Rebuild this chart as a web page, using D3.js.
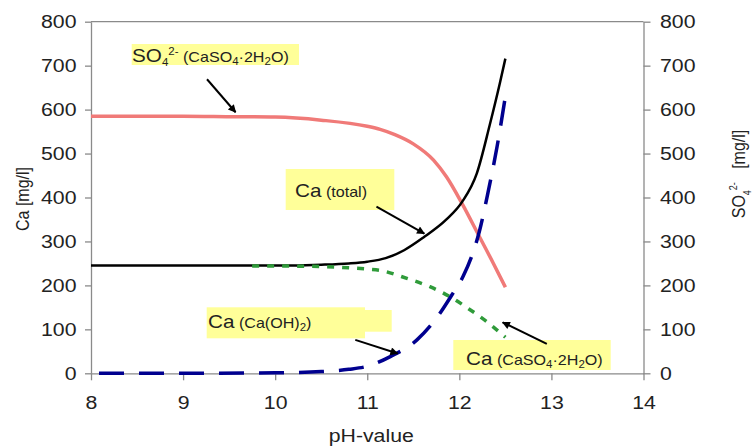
<!DOCTYPE html>
<html><head><meta charset="utf-8">
<script src="https://cdn.jsdelivr.net/npm/d3@7"></script>
<style>
html,body{margin:0;padding:0;background:#fff;}
svg{display:block;font-family:"Liberation Sans",Arial,sans-serif;}
</style></head>
<body>
<svg id="chart" width="752" height="446"></svg>
<script>
// ---- data (pH, mg/l) ----
const xTicks = [8, 9, 10, 11, 12, 13, 14];
const yTicks = [0, 100, 200, 300, 400, 500, 600, 700, 800];

const so4PH  = [8, 9, 9.5, 10, 10.5, 11, 11.14, 11.3, 11.5, 11.72, 11.86, 12.03, 12.22, 12.37, 12.5];
const so4Val = [585, 585, 584, 583, 576, 562, 555, 543, 522, 485, 447, 386, 310, 250, 196];

const caTotPH  = [8, 9, 10, 10.5, 10.8, 11, 11.2, 11.4, 11.61, 11.86, 12.03, 12.19, 12.33, 12.44, 12.5];
const caTotVal = [245, 245, 245, 247, 250, 254, 262, 280, 309, 350, 390, 455, 565, 660, 716];

const caOHPH  = [8, 9, 10, 10.5, 10.8, 11, 11.25, 11.54, 11.75, 11.93, 12.04, 12.22, 12.31, 12.41, 12.5];
const caOHVal = [0, 0, 1, 4, 9, 16, 38, 76, 125, 182, 220, 325, 410, 516, 630];

const caGypPH  = [9.75, 10, 10.5, 10.8, 11, 11.14, 11.43, 11.68, 11.9, 12.1, 12.3, 12.5];
const caGypVal = [244, 244, 243, 240, 237, 234, 216, 197, 174, 147, 117, 82];

// ---- layout ----
const svg = d3.select("#chart");
const X0 = 91, X1 = 643.5, Y0 = 373.3, Y1 = 21.7;
const SX = 1.15;            // horizontal text stretch seen in the reference
const FS = 18.5;
const x = d3.scaleLinear().domain([8, 14]).range([X0, X1]);
const y = d3.scaleLinear().domain([0, 800]).range([Y0, Y1]);
const axisCol = "#8a8a8a", textCol = "#222";

// frame: top line
svg.append("line").attr("x1", X0).attr("x2", X1).attr("y1", Y1).attr("y2", Y1)
  .attr("stroke", axisCol).attr("stroke-width", 1.3);

function styleAxis(g){
  g.select(".domain").attr("stroke", axisCol).attr("stroke-width", 1.3);
  g.selectAll(".tick line").attr("stroke", axisCol).attr("stroke-width", 1.3);
  g.selectAll(".tick text").attr("fill", textCol).attr("font-size", FS)
    .attr("font-family", "Liberation Sans, Arial, sans-serif")
    .attr("transform", `scale(${SX},1)`);
}
const gx = svg.append("g").attr("transform", `translate(0,${Y0})`)
  .call(d3.axisBottom(x).tickValues(xTicks).tickSize(7).tickSizeOuter(0).tickPadding(16).tickFormat(d3.format("d")));
styleAxis(gx);
const gl = svg.append("g").attr("transform", `translate(${X0},0)`)
  .call(d3.axisLeft(y).tickValues(yTicks).tickSize(6).tickSizeOuter(0).tickFormat(d3.format("d")));
styleAxis(gl);
gl.selectAll(".tick text").attr("x", -14.5 / SX);
const gr = svg.append("g").attr("transform", `translate(${X1},0)`)
  .call(d3.axisRight(y).tickValues(yTicks).tickSize(7).tickSizeOuter(0).tickFormat(d3.format("d")));
styleAxis(gr);
gr.selectAll(".tick text").attr("x", 16.5 / SX);

// axis titles
svg.append("text").attr("transform", `translate(${(X0 + X1) / 2 + 4},442) scale(${SX},1)`)
  .attr("text-anchor", "middle").attr("font-size", FS).attr("fill", textCol).text("pH-value");
svg.append("text").attr("transform", `translate(29,199) rotate(-90) scale(1,${SX})`).attr("text-anchor", "middle")
  .attr("font-size", 16).attr("fill", textCol).text("Ca [mg/l]");
const rt = svg.append("text").attr("transform", `translate(745,174) rotate(-90) scale(1,${SX})`).attr("text-anchor", "middle")
  .attr("font-size", 16).attr("fill", textCol);
rt.append("tspan").text("SO");
rt.append("tspan").attr("font-size", 9).attr("dy", 5).text("4");
rt.append("tspan").attr("font-size", 9).attr("dy", -12).text("2-");
rt.append("tspan").attr("dy", 7).attr("xml:space", "preserve").text("\u00a0\u00a0\u00a0[mg/l]");

// ---- lines ----
const line = d3.line().x(d => x(d[0])).y(d => y(d[1])).curve(d3.curveMonotoneX);
const zip = (a, b) => a.map((v, i) => [v, b[i]]);

svg.append("path").datum(zip(so4PH, so4Val)).attr("d", line)
  .attr("fill", "none").attr("stroke", "#f07a78").attr("stroke-width", 3.5);
svg.append("path").datum(zip(caTotPH, caTotVal)).attr("d", line)
  .attr("fill", "none").attr("stroke", "#000").attr("stroke-width", 2.5);
svg.append("path").datum(zip(caGypPH, caGypVal)).attr("d", line)
  .attr("fill", "none").attr("stroke", "#2f9b3a").attr("stroke-width", 3.5)
  .attr("stroke-dasharray", "7,8");
svg.append("path").datum(zip(caOHPH, caOHVal)).attr("d", line)
  .attr("fill", "none").attr("stroke", "#00008f").attr("stroke-width", 3.5)
  .attr("stroke-dasharray", "25,15").attr("stroke-dashoffset", 32);

// ---- annotations ----
svg.append("defs").append("marker").attr("id", "arr")
  .attr("viewBox", "0 0 10 10").attr("refX", 9).attr("refY", 5)
  .attr("markerWidth", 11).attr("markerHeight", 8).attr("markerUnits", "userSpaceOnUse")
  .attr("orient", "auto")
  .append("path").attr("d", "M0,0 L10,5 L0,10 Z").attr("fill", "#000");

const boxCol = "#ffff99";
function box(x0, y0, x1, y1){
  svg.append("rect").attr("x", x0).attr("y", y0).attr("width", x1 - x0).attr("height", y1 - y0)
    .attr("fill", boxCol);
}
function arrow(p0, p1){
  svg.append("line").attr("x1", x(p0[0])).attr("y1", y(p0[1])).attr("x2", x(p1[0])).attr("y2", y(p1[1]))
    .attr("stroke", "#000").attr("stroke-width", 2).attr("marker-end", "url(#arr)");
}
function label(tx, ty, parts){
  const t = svg.append("text").attr("transform", `translate(${tx},${ty}) scale(${SX},1)`)
    .attr("fill", textCol).attr("xml:space", "preserve");
  parts.forEach(p => {
    const s = t.append("tspan").attr("font-size", p.s).text(p.t);
    if (p.dy) s.attr("dy", p.dy);
  });
}
const BIG = 18, SM = 14, SUB = 10;

// 1: SO4 label
box(131.7, 44, 299, 65);
label(132, 61.5, [
  {t:"SO", s:BIG}, {t:"4", s:SUB, dy:4}, {t:"2-", s:SUB, dy:-11}, {t:" (CaSO", s:SM, dy:7},
  {t:"4", s:SUB, dy:3}, {t:"\u00b72H", s:SM, dy:-3}, {t:"2", s:SUB, dy:3}, {t:"O)", s:SM, dy:-3}
]);
arrow([9.26, 669], [9.57, 594]);

// 2: Ca total
box(285.7, 169, 394.3, 210);
label(295, 197, [{t:"Ca", s:BIG}, {t:" (total)", s:SM}]);
arrow([11.10, 379], [11.62, 318]);

// 3: Ca(OH)2
box(206.7, 307.3, 365, 338.3);
box(365, 310, 391.7, 331.7);
label(208, 328, [{t:"Ca", s:BIG}, {t:" (Ca(OH)", s:SM}, {t:"2", s:SUB, dy:3}, {t:")", s:SM, dy:-3}]);
arrow([10.87, 76], [11.33, 45]);

// 4: Ca gypsum
box(453.3, 340, 610.7, 370);
label(466, 365, [
  {t:"Ca", s:BIG}, {t:" (CaSO", s:SM}, {t:"4", s:SUB, dy:3}, {t:"\u00b72H", s:SM, dy:-3},
  {t:"2", s:SUB, dy:3}, {t:"O)", s:SM, dy:-3}
]);
arrow([12.95, 67], [12.47, 116]);
</script>
</body></html>
